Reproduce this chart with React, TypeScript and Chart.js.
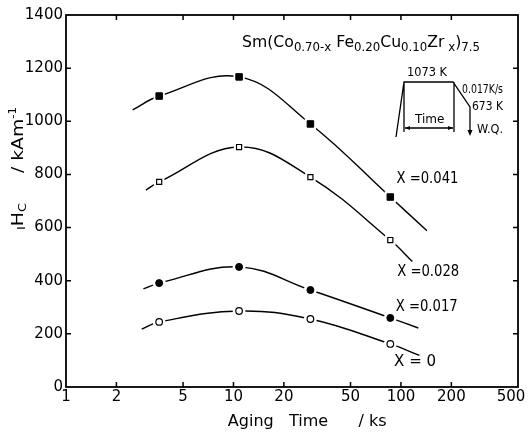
import React, { useEffect, useRef } from 'react';
import { Chart, registerables } from 'chart.js';

Chart.register(...registerables);

// ---- data ----
const agingTimes = [3.6, 10.8, 28.8, 86.4]; // ks
const xTickValues = [1, 2, 5, 10, 20, 50, 100, 200, 500];
const yTickValues = [0, 200, 400, 600, 800, 1000, 1200, 1400];

const hcX0041 = [1095, 1167, 990, 715];
const hcX0028 = [772, 903, 790, 553];
const hcX0017 = [391, 452, 365, 260];
const hcX0 = [245, 286, 256, 162];

// fitted-curve end points (order: 0.041, 0.028, 0.017, 0)
const fitStartTimes = [2.5, 3.0, 2.9, 2.83];
const fitStartValues = [1043, 741, 369, 218];
const fitEndTimes = [143, 117, 127, 129];
const fitEndValues = [588, 472, 222, 119];

const seriesLabels = ['X =0.041', 'X =0.028', 'X =0.017', 'X = 0'];
const labelTimes = [94, 95, 93, 91];
const labelValues = [783, 433, 301, 94];

const FONT = 'DejaVu Sans';
const HALO = '#ffffff';

type Seg = { t: string; size: number; dy: number };

function drawRich(ctx: CanvasRenderingContext2D, segs: Seg[], x: number, y: number, target?: number) {
  let total = 0;
  const widths = segs.map((s) => {
    ctx.font = `${s.size}px "${FONT}"`;
    const w = ctx.measureText(s.t).width;
    total += w;
    return w;
  });
  const k = target ? target / total : 1;
  ctx.save();
  ctx.translate(x, y);
  ctx.scale(k, 1);
  ctx.textBaseline = 'alphabetic';
  ctx.textAlign = 'left';
  let cx = 0;
  segs.forEach((s, i) => {
    ctx.font = `${s.size}px "${FONT}"`;
    ctx.fillText(s.t, cx, s.dy);
    cx += widths[i];
  });
  ctx.restore();
}

const framePlugin = {
  id: 'frame',
  afterDatasetsDraw(chart: any) {
    const { ctx, chartArea: a } = chart;
    const xs = chart.scales.x;
    const ys = chart.scales.y;
    ctx.save();
    ctx.strokeStyle = '#000';
    ctx.fillStyle = '#000';
    ctx.lineWidth = 1.8;
    ctx.strokeRect(a.left, a.top, a.right - a.left, a.bottom - a.top);
    ctx.lineWidth = 1.5;
    const tl = 5;
    ctx.beginPath();
    xTickValues.slice(1, -1).forEach((v) => {
      const px = xs.getPixelForValue(v);
      ctx.moveTo(px, a.bottom);
      ctx.lineTo(px, a.bottom - tl);
      ctx.moveTo(px, a.top);
      ctx.lineTo(px, a.top + tl);
    });
    yTickValues.slice(1, -1).forEach((v) => {
      const py = ys.getPixelForValue(v);
      ctx.moveTo(a.left, py);
      ctx.lineTo(a.left + tl, py);
      ctx.moveTo(a.right, py);
      ctx.lineTo(a.right - tl, py);
    });
    ctx.stroke();

    // last x tick label, pulled inside the page edge
    const last = xTickValues[xTickValues.length - 1];
    ctx.font = `15px "${FONT}"`;
    ctx.textAlign = 'center';
    ctx.textBaseline = 'top';
    ctx.fillText(String(last), Math.min(xs.getPixelForValue(last), 528 - 17), a.bottom + 3);

    // y-axis title
    ctx.save();
    ctx.translate(23, 230);
    ctx.rotate(-Math.PI / 2);
    drawRich(
      ctx,
      [
        { t: 'I', size: 11, dy: 2 },
        { t: 'H', size: 16, dy: 0 },
        { t: 'C', size: 11, dy: 3 },
        { t: '     / kAm', size: 16, dy: 0 },
        { t: '-1', size: 10, dy: -7 },
      ],
      0,
      0,
      123
    );
    ctx.restore();

    // formula
    drawRich(
      ctx,
      [
        { t: 'Sm(Co', size: 16, dy: 0 },
        { t: '0.70-x', size: 12, dy: 4 },
        { t: ' Fe', size: 16, dy: 0 },
        { t: '0.20', size: 12, dy: 4 },
        { t: 'Cu', size: 16, dy: 0 },
        { t: '0.10', size: 12, dy: 4 },
        { t: 'Zr', size: 16, dy: 0 },
        { t: ' x', size: 12, dy: 4 },
        { t: ')', size: 16, dy: 0 },
        { t: '7.5', size: 12, dy: 4 },
      ],
      242,
      47,
      238
    );

    // series labels
    ctx.font = `16px "${FONT}"`;
    ctx.textBaseline = 'middle';
    ctx.textAlign = 'left';
    seriesLabels.forEach((s, i) => {
      const px = xs.getPixelForValue(labelTimes[i]);
      const py = ys.getPixelForValue(labelValues[i]);
      ctx.fillText(s, px, py, i === 3 ? 42 : 62);
    });

    // heat-treatment inset
    ctx.lineWidth = 1.3;
    ctx.beginPath();
    ctx.moveTo(396, 137);
    ctx.lineTo(404, 82);
    ctx.lineTo(453, 82);
    ctx.lineTo(470, 107);
    ctx.lineTo(470, 131);
    ctx.moveTo(404, 82);
    ctx.lineTo(404, 132);
    ctx.moveTo(454, 82);
    ctx.lineTo(454, 132);
    ctx.moveTo(405, 128);
    ctx.lineTo(453, 128);
    ctx.stroke();
    ctx.beginPath();
    ctx.moveTo(470, 136);
    ctx.lineTo(467.5, 130);
    ctx.lineTo(472.5, 130);
    ctx.closePath();
    ctx.moveTo(405, 128);
    ctx.lineTo(410, 126);
    ctx.lineTo(410, 130);
    ctx.closePath();
    ctx.moveTo(453, 128);
    ctx.lineTo(448, 126);
    ctx.lineTo(448, 130);
    ctx.closePath();
    ctx.fill();

    ctx.font = `12px "${FONT}"`;
    ctx.textBaseline = 'middle';
    ctx.textAlign = 'left';
    ctx.fillText('1073 K', 407, 73, 40);
    ctx.fillText('0.017K/s', 462, 90, 41);
    ctx.fillText('673 K', 472, 107, 31);
    ctx.fillText('Time', 415, 120, 32);
    ctx.fillText('W.Q.', 477, 130, 26);
    ctx.restore();
  },
};

function lineData(times: number[], values: number[], i: number) {
  return [
    { x: fitStartTimes[i], y: fitStartValues[i] },
    ...times.map((t, j) => ({ x: t, y: values[j] })),
    { x: fitEndTimes[i], y: fitEndValues[i] },
  ];
}

function pointData(times: number[], values: number[]) {
  return times.map((t, j) => ({ x: t, y: values[j] }));
}

export default function App() {
  const ref = useRef<HTMLCanvasElement | null>(null);

  useEffect(() => {
    if (!ref.current) return;
    const series = [
      { vals: hcX0041, style: 'rect', r: 4.6, halo: 8, fill: '#000', bw: 1 },
      { vals: hcX0028, style: 'rect', r: 3.6, halo: 7.4, fill: '#fff', bw: 1.2 },
      { vals: hcX0017, style: 'circle', r: 3.5, halo: 6.5, fill: '#000', bw: 1 },
      { vals: hcX0, style: 'circle', r: 3.3, halo: 6.4, fill: '#fff', bw: 1.2 },
    ];
    const datasets: any[] = [];
    series.forEach((s, i) => {
      datasets.push({
        label: seriesLabels[i] + ' fit',
        data: lineData(agingTimes, s.vals, i),
        borderColor: '#000',
        borderWidth: 1.4,
        tension: 0.4,
        fill: false,
        pointStyle: s.style,
        pointRadius: [0, s.halo, s.halo, s.halo, s.halo, 0],
        pointBackgroundColor: HALO,
        pointBorderWidth: 0,
        pointBorderColor: HALO,
        order: 2,
      });
      datasets.push({
        label: seriesLabels[i],
        data: pointData(agingTimes, s.vals),
        showLine: false,
        pointStyle: s.style,
        pointRadius: s.r,
        pointBackgroundColor: s.fill,
        pointBorderColor: '#000',
        pointBorderWidth: s.bw,
        order: 1,
      });
    });

    const chart = new Chart(ref.current, {
      type: 'line',
      data: { datasets },
      options: {
        animation: false,
        responsive: false,
        layout: { padding: { top: 15, right: 10, left: 0, bottom: 0 } },
        plugins: { legend: { display: false }, tooltip: { enabled: false } },
        scales: {
          x: {
            type: 'logarithmic',
            min: 1,
            max: 500,
            afterBuildTicks: (s: any) => {
              s.ticks = xTickValues.map((v) => ({ value: v }));
            },
            afterFit: (s: any) => {
              s.height = 45;
              s.paddingLeft = 0;
              s.paddingRight = 0;
            },
            ticks: {
              callback: (v: any) => (v === xTickValues[xTickValues.length - 1] ? '' : String(v)),
              font: { family: FONT, size: 15 },
              color: '#000',
              padding: 1,
              maxRotation: 0,
              autoSkip: false,
            },
            grid: { display: false, drawTicks: false },
            border: { display: false },
            title: {
              display: true,
              text: '      Aging   Time      / ks',
              font: { family: FONT, size: 16 },
              color: '#000',
              padding: { top: 0, bottom: 1 },
            },
          },
          y: {
            type: 'linear',
            min: 0,
            max: 1400,
            afterBuildTicks: (s: any) => {
              s.ticks = yTickValues.map((v) => ({ value: v }));
            },
            afterFit: (s: any) => {
              s.width = 66;
              s.paddingTop = 0;
              s.paddingBottom = 0;
            },
            ticks: {
              callback: (v: any) => String(v),
              font: { family: FONT, size: 15 },
              color: '#000',
              padding: 3,
            },
            grid: { display: false, drawTicks: false },
            border: { display: false },
          },
        },
      },
      plugins: [framePlugin],
    } as any);
    return () => chart.destroy();
  }, []);

  return (
    <div style={{ position: 'fixed', left: 0, top: 0, width: 528, height: 432, background: '#fff' }}>
      <canvas ref={ref} width={528} height={432} style={{ display: 'block' }} />
    </div>
  );
}
